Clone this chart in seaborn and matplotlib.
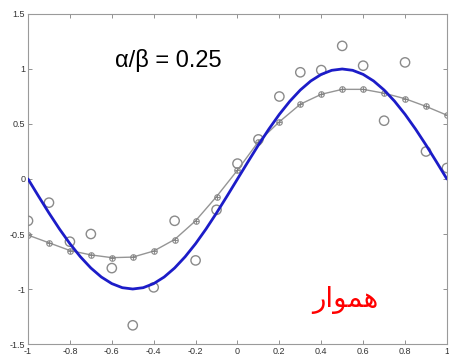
import matplotlib
matplotlib.use("Agg")
import matplotlib.pyplot as plt
import seaborn as sns
import pandas as pd
import numpy as np

# True curve sampled every 0.05
x_true = [-1.0, -0.95, -0.9, -0.85, -0.8, -0.75, -0.7, -0.65, -0.6, -0.55, -0.5,
          -0.45, -0.4, -0.35, -0.3, -0.25, -0.2, -0.15, -0.1, -0.05, 0.0,
          0.05, 0.1, 0.15, 0.2, 0.25, 0.3, 0.35, 0.4, 0.45, 0.5,
          0.55, 0.6, 0.65, 0.7, 0.75, 0.8, 0.85, 0.9, 0.95, 1.0]
y_true = [0.0, -0.156, -0.309, -0.454, -0.588, -0.707, -0.809, -0.891, -0.951, -0.988, -1.0,
          -0.988, -0.951, -0.891, -0.809, -0.707, -0.588, -0.454, -0.309, -0.156, 0.0,
          0.156, 0.309, 0.454, 0.588, 0.707, 0.809, 0.891, 0.951, 0.988, 1.0,
          0.988, 0.951, 0.891, 0.809, 0.707, 0.588, 0.454, 0.309, 0.156, 0.0]

# Noisy observations
x_obs = [-1.0, -0.9, -0.8, -0.7, -0.6, -0.5, -0.4, -0.3, -0.2, -0.1, 0.0,
         0.1, 0.2, 0.3, 0.4, 0.5, 0.6, 0.7, 0.8, 0.9, 1.0]
y_obs = [-0.38, -0.215, -0.57, -0.50, -0.81, -1.33, -0.985, -0.38, -0.74, -0.28, 0.14,
         0.36, 0.75, 0.97, 0.99, 1.21, 1.03, 0.53, 1.06, 0.25, 0.10]

# Smoothed fit
y_fit = [-0.51, -0.58, -0.65, -0.69, -0.715, -0.71, -0.655, -0.55, -0.38, -0.16, 0.08,
         0.34, 0.52, 0.68, 0.77, 0.815, 0.815, 0.78, 0.73, 0.66, 0.58]

x_ticks = [-1, -0.8, -0.6, -0.4, -0.2, 0, 0.2, 0.4, 0.6, 0.8, 1]
x_tick_labels = ["-1", "-0.8", "-0.6", "-0.4", "-0.2", "0", "0.2", "0.4", "0.6", "0.8", "1"]
y_ticks = [-1.5, -1, -0.5, 0, 0.5, 1, 1.5]
y_tick_labels = ["-1.5", "-1", "-0.5", "0", "0.5", "1", "1.5"]

sns.set_theme(style="white")
plt.rcParams["font.family"] = ["Liberation Sans", "DejaVu Sans"]

fig = plt.figure(figsize=(4.49, 3.57), dpi=100)
ax = fig.add_axes([0.0624, 0.0364, 0.933, 0.9244])

true_df = pd.DataFrame({"x": x_true, "y": y_true})
obs_df = pd.DataFrame({"x": x_obs, "y": y_obs, "fit": y_fit})

sns.lineplot(data=obs_df, x="x", y="fit", ax=ax, color="#959595", linewidth=1.0,
             marker="$\u2295$", markersize=4.5, markeredgewidth=0.2,
             markerfacecolor="#808080", markeredgecolor="#808080", zorder=2)
sns.scatterplot(data=obs_df, x="x", y="y", ax=ax, s=45, marker="o",
                facecolor="none", edgecolor="#8a8a8a", linewidth=1.0, zorder=3)
sns.lineplot(data=true_df, x="x", y="y", ax=ax, color="#1c1cc8", linewidth=2.0, zorder=4)

ax.set_xlim(-1, 1)
ax.set_ylim(-1.5, 1.5)
ax.set_xticks(x_ticks)
ax.set_xticklabels(x_tick_labels)
ax.set_yticks(y_ticks)
ax.set_yticklabels(y_tick_labels)
ax.set_xlabel("")
ax.set_ylabel("")
ax.tick_params(direction="in", length=3, width=0.6, colors="#808080",
               labelcolor="#333333", labelsize=6.5, pad=2,
               top=True, right=True, bottom=True, left=True)
for s in ax.spines.values():
    s.set_color("#9a9a9a")
    s.set_linewidth(0.8)

ax.text(-0.585, 1.08, "\u03b1/\u03b2 = 0.25", fontsize=17, color="black",
        ha="left", va="center")
# Arabic word in presentation forms (joined glyphs, visual order)
ax.text(0.355, -1.1, "\ufead\ufe8d\ufeee\ufee4\ufeeb", fontsize=20, color="#ff0000",
        ha="left", va="center", family=["DejaVu Sans"])

fig.savefig("out.png", dpi=100)
